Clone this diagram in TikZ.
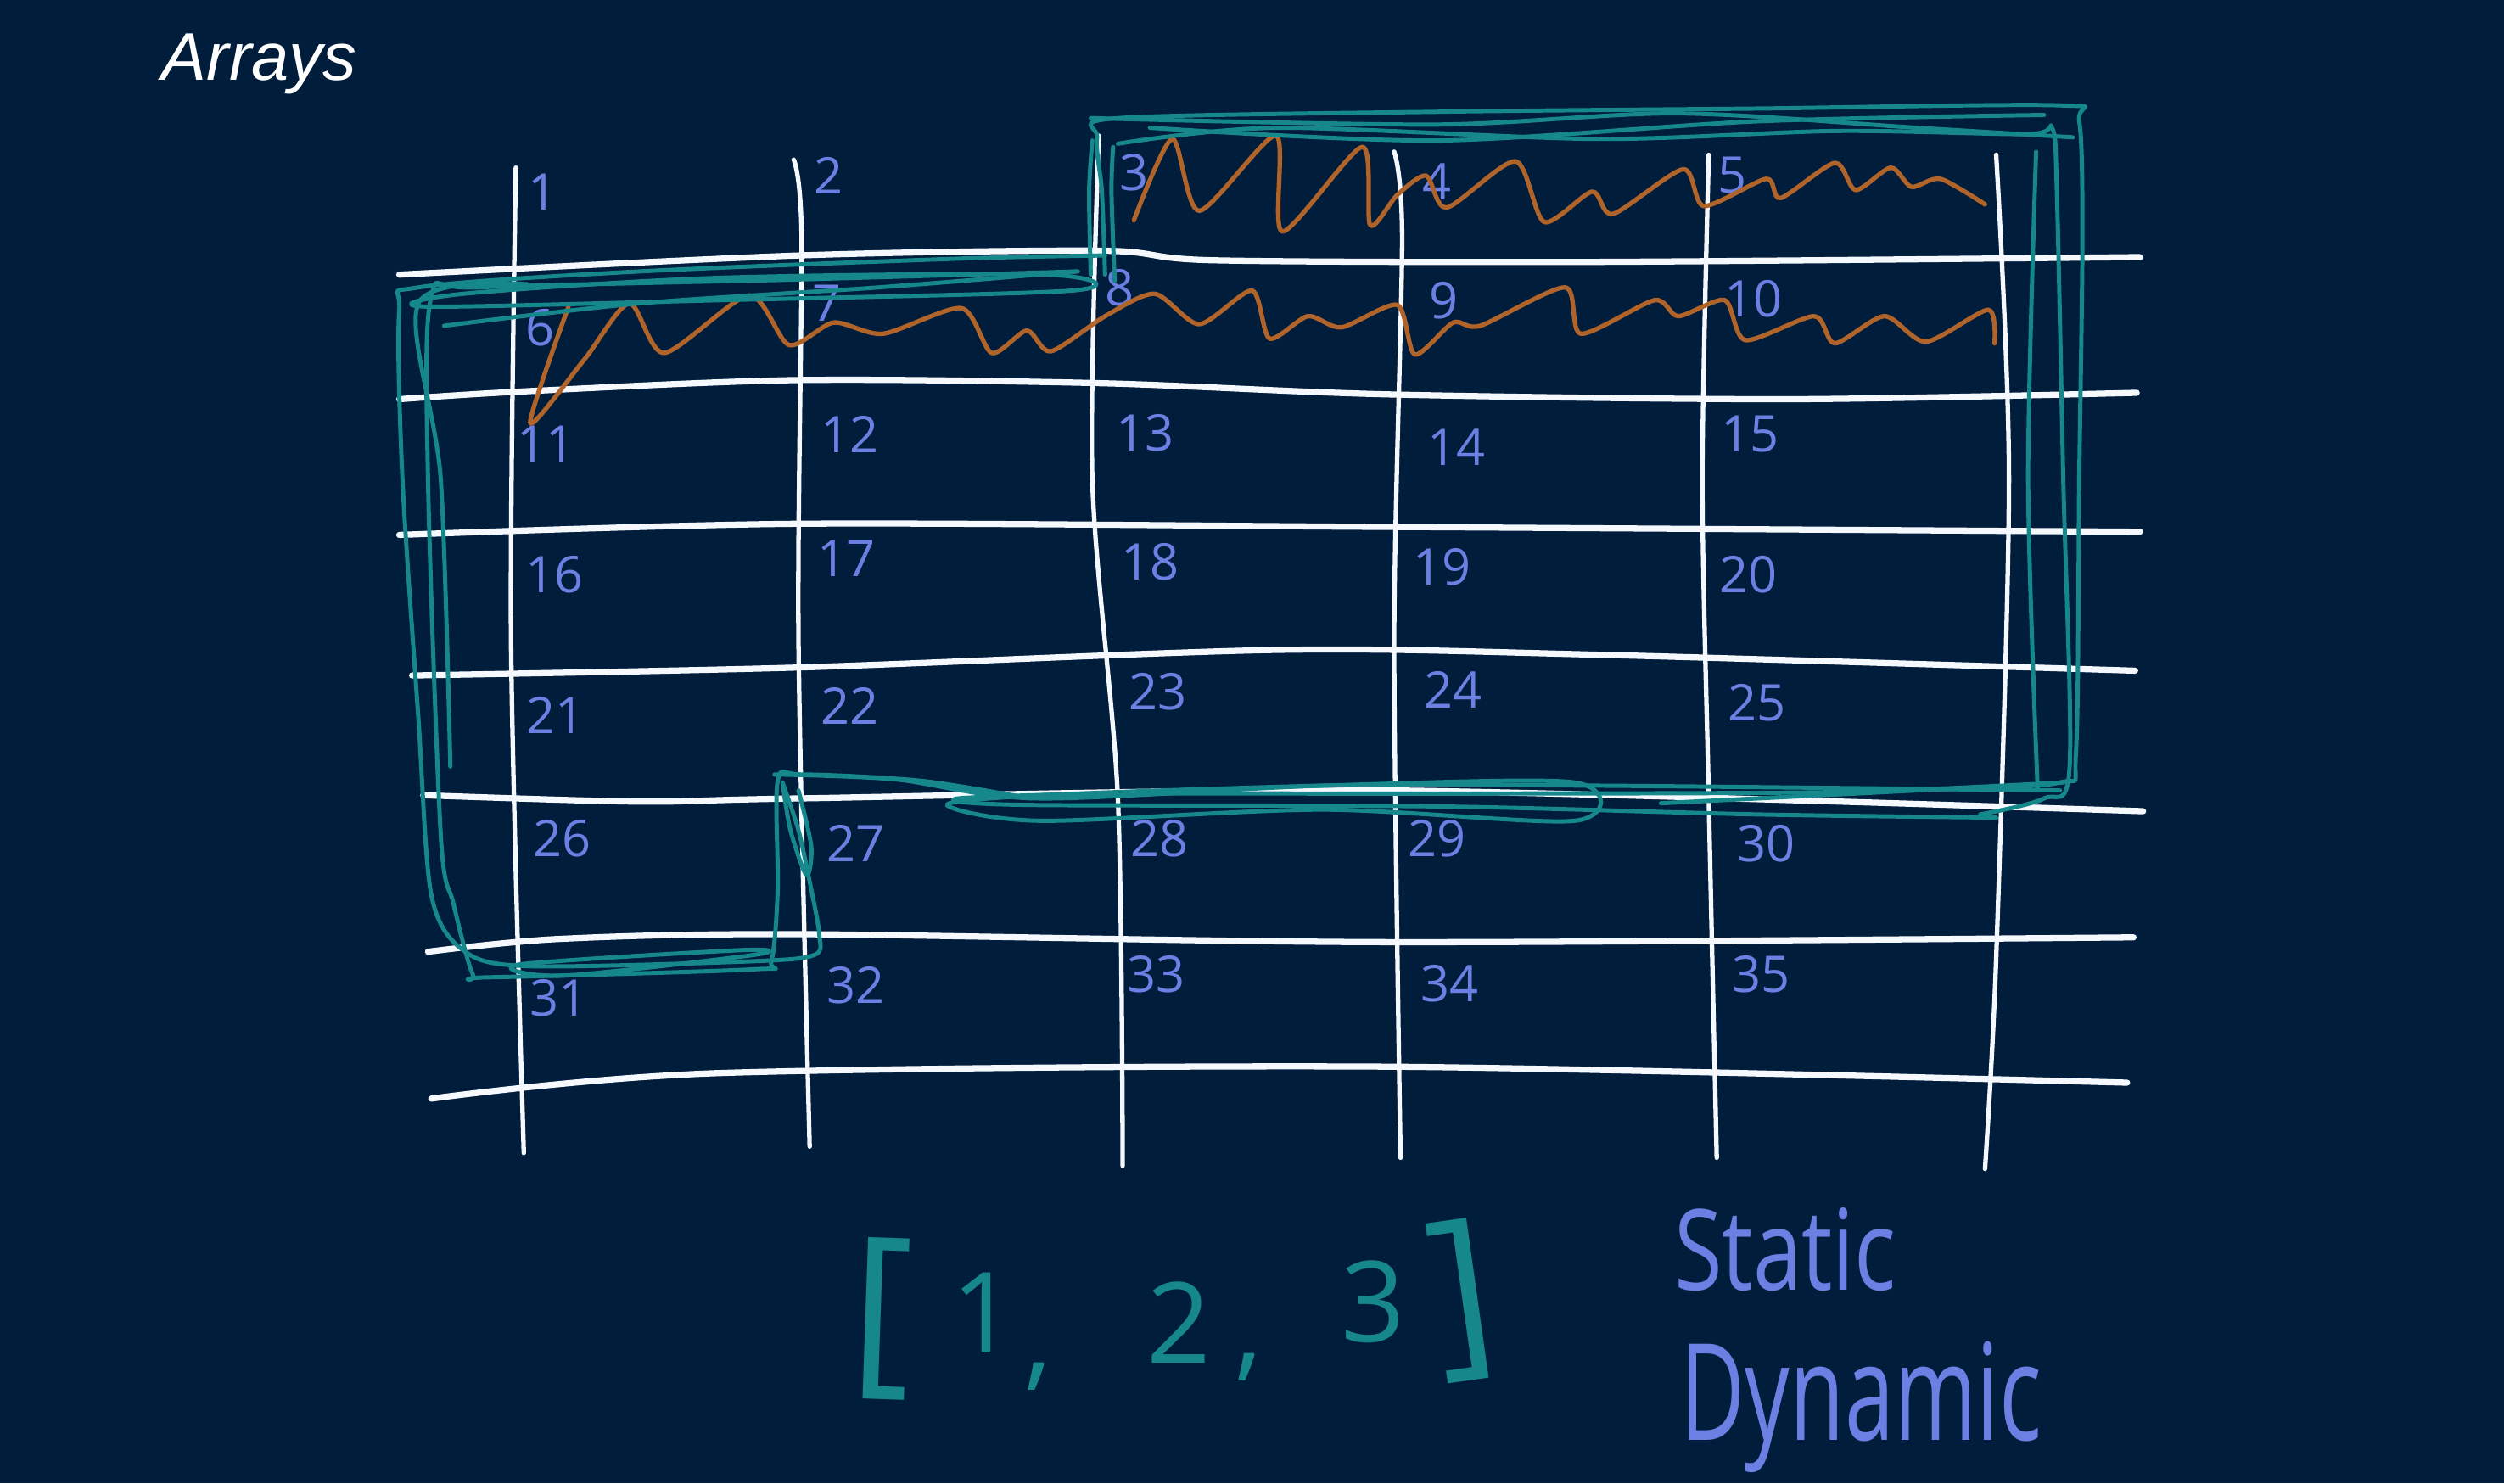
\documentclass[tikz,border=0pt]{standalone}
\usepackage{fontspec}
\newfontfamily\handfont{Open Sans}
\newfontfamily\titlefont{Liberation Sans}
\definecolor{bg}{RGB}{1,29,60}
\definecolor{gridc}{RGB}{245,248,252}
\definecolor{numc}{RGB}{108,128,228}
\definecolor{tealc}{RGB}{22,136,140}
\definecolor{brownc}{RGB}{176,100,42}
\begin{document}
\begin{tikzpicture}[x=0.02cm,y=-0.02cm,
  vline/.style={gridc,line width=1.6pt,line cap=round},
  hline/.style={gridc,line width=2.2pt,line cap=round},
  loopline/.style={tealc,line width=1.5pt,line cap=round,line join=round},
  wave/.style={brownc,line width=1.6pt,line cap=round,line join=round},
  num/.style={numc,font=\handfont\fontsize{18}{18}\selectfont,inner sep=0pt},
  tealtext/.style={tealc,font=\handfont\fontsize{40}{40}\selectfont,inner sep=0pt},
  handtext/.style={numc,inner sep=0pt}]
\fill[bg] (0,0) rectangle (1568,929);
\useasboundingbox (0,0) rectangle (1568,929);

% title
\node[white,font=\titlefont\itshape\fontsize{24}{24}\selectfont,anchor=base west,inner sep=0pt] (title) at (101,50) {Arrays};

% horizontal grid lines
\draw[hline] plot[smooth,tension=0.5] coordinates {(250,172) (500,160) (690,157) (760,163) (1000,164) (1340,161)};
\draw[hline] plot[smooth,tension=0.5] coordinates {(250,250) (330,245) (500,238) (690,240) (870,247) (1120,250) (1338,246)};
\draw[hline] plot[smooth,tension=0.5] coordinates {(250,335) (500,328) (870,330) (1340,333)};
\draw[hline] plot[smooth,tension=0.5] coordinates {(258,423) (500,418) (800,407) (1000,410) (1337,420)};
\draw[hline] plot[smooth,tension=0.5] coordinates {(265,498) (400,502) (500,500) (870,495) (1342,508)};
\draw[hline] plot[smooth,tension=0.5] coordinates {(268,596) (350,588) (500,585) (870,590) (1336,587)};
\draw[hline] plot[smooth,tension=0.5] coordinates {(270,688) (450,672) (870,668) (1332,678)};

% vertical grid lines
\draw[vline] plot[smooth,tension=0.5] coordinates {(323,105) (320,400) (328,722)};
\draw[vline] plot[smooth,tension=0.5] coordinates {(497,100) (502,150) (500,400) (507,718)};
\draw[vline] plot[smooth,tension=0.5] coordinates {(688,85) (684,300) (700,500) (703,730)};
\draw[vline] plot[smooth,tension=0.5] coordinates {(873,95) (878,150) (873,400) (877,725)};
\draw[vline] plot[smooth,tension=0.5] coordinates {(1070,97) (1066,300) (1070,500) (1075,725)};
\draw[vline] plot[smooth,tension=0.5] coordinates {(1250,97) (1258,300) (1250,600) (1243,732)};

% cell numbers
\foreach \n/\x/\y in {1/340/120,2/519/110,3/710/108,4/900/114,5/1085/110,
  6/338/205,7/518/190,8/701/180,9/904/188,10/1098/187,
  11/342/278,12/532/272,13/717/271,14/912/280,15/1096/272,
  16/347/360,17/530/350,18/720/352,19/903/355,20/1095/360,
  21/348/448,22/532/442,23/725/433,24/910/432,25/1100/440,
  26/352/525,27/536/528,28/726/525,29/900/525,30/1106/528,
  31/350/625,32/536/617,33/724/610,34/908/616,35/1103/610}
  \node[num] (n\n) at (\x,\y) {\n};

% brown scribbles
\draw[wave] plot[smooth,tension=0.45] coordinates {(710,138) (734,87) (751,132) (799,85) (803,145) (853,92) (858,141) (875,122) (893,110) (906,130) (949,101) (967,139) (997,120) (1010,134) (1054,106) (1067,129) (1106,112) (1115,124) (1149,102) (1162,119) (1184,105) (1197,117) (1215,112) (1243,128)};
\draw[wave] plot[smooth,tension=0.45] coordinates {(356,192) (332,265) (366,225) (394,190) (416,221) (469,185) (494,216) (522,202) (553,209) (602,193) (621,221) (643,207) (658,220) (692,198) (723,184) (751,203) (784,182) (795,212) (819,198) (840,205) (875,191) (886,222) (910,202) (927,204) (980,180) (990,209) (1036,188) (1051,198) (1080,188) (1093,213) (1136,198) (1149,215) (1180,198) (1206,214) (1245,194) (1249,215)};

% teal outline: top and right
\draw[loopline] plot[smooth,tension=0.5] coordinates {(692,172) (690,120) (687,86) (700,74) (900,70) (1100,68) (1290,66) (1302,76) (1304,150) (1302,300) (1300,470) (1290,490) (1200,495) (1040,503)};
\draw[loopline] plot[smooth,tension=0.5] coordinates {(683,74) (900,78) (1050,71) (1200,80) (1298,86)};
\draw[loopline] plot[smooth,tension=0.5] coordinates {(700,90) (800,80) (1000,87) (1150,82) (1270,84) (1285,80) (1288,120) (1292,300) (1296,480) (1280,500) (1240,510)};
\draw[loopline] plot[smooth,tension=0.5] coordinates {(720,80) (900,88) (1100,76) (1280,72)};
\draw[loopline] plot[smooth,tension=0.5] coordinates {(1275,95) (1270,300) (1276,495)};
\draw[loopline] plot[smooth,tension=0.5] coordinates {(683,172) (682,120) (684,88)};
\draw[loopline] plot[smooth,tension=0.5] coordinates {(698,176) (696,120) (697,92)};
% teal outline: bottom edge
\draw[loopline] plot[smooth,tension=0.5] coordinates {(1292,490) (1150,496) (900,497) (700,497) (600,500) (640,504) (900,505) (1100,510) (1250,512)};
\draw[loopline] plot[smooth,tension=0.5] coordinates {(485,485) (560,488) (650,500) (830,492) (1000,492) (1290,495)};
\draw[loopline] plot[smooth cycle,tension=0.5] coordinates {(593,504) (652,498) (828,492) (986,490) (986,514) (828,507) (652,514)};
% teal outline: left part
\draw[loopline] plot[smooth,tension=0.5] coordinates {(692,160) (600,162) (400,170) (262,180) (250,195) (252,300) (262,450) (270,560) (290,595) (330,605) (470,602) (510,598) (513,585) (508,557) (500,520) (490,490)};
\draw[loopline] plot[smooth,tension=0.5] coordinates {(675,170) (500,175) (300,180) (270,186) (268,300) (276,523) (284,566) (296,610) (306,612) (472,607) (483,602) (487,557) (487,489) (502,485) (577,489) (645,500)};
\draw[loopline] plot[smooth,tension=0.5] coordinates {(278,204) (400,190) (550,180) (674,170)};
\draw[loopline] plot[smooth cycle,tension=0.5] coordinates {(267,192) (450,188) (671,182) (655,172) (450,174) (290,184)};
\draw[loopline] plot[smooth,tension=0.5] coordinates {(282,480) (276,300) (262,190) (330,178)};
\draw[loopline] plot[smooth,tension=0.5] coordinates {(490,490) (495,520) (505,548) (508,530) (500,495)};
\draw[loopline] plot[smooth cycle,tension=0.5] coordinates {(325,604) (464,595) (472,598) (352,611)};

% [1, 2, 3]
\node[tealtext,font=\handfont\fontsize{66}{66}\selectfont,rotate=-2] (lbr) at (552,826) {[};
\node[tealtext] (d1) at (616,822) {1};
\node[tealtext] (c1) at (650,862) {,};
\node[tealtext] (d2) at (738,828) {2};
\node[tealtext] (c2) at (782,856) {,};
\node[tealtext] (d3) at (860,815) {3};
\node[tealtext,font=\handfont\fontsize{66}{66}\selectfont,rotate=8] (rbr) at (916,814) {]};

% Static / Dynamic
\node[handtext,font=\handfont\fontsize{40}{40}\selectfont,anchor=base west] (static) at (1048,808) {\scalebox{0.78}[1]{Static}};
\node[handtext,font=\handfont\fontsize{48}{48}\selectfont,anchor=base west] (dynamic) at (1052,902) {\scalebox{0.66}[1]{Dynamic}};
\end{tikzpicture}
\end{document}
